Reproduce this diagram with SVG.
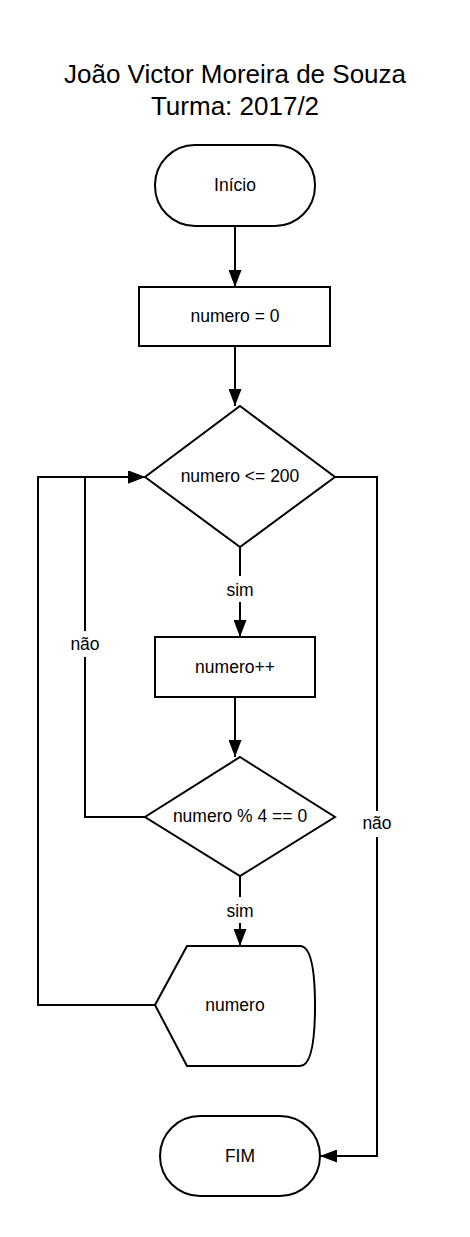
<svg xmlns="http://www.w3.org/2000/svg" width="470" height="1237" viewBox="0 0 470 1237">
<style>
.shape{fill:#ffffff;stroke:#000000;stroke-width:2}
.conn{fill:none;stroke:#000000;stroke-width:2}
.t{font-family:"Liberation Sans",Arial,sans-serif;font-size:17.5px;fill:#000000;text-anchor:middle}
.title{font-family:"Liberation Sans",Arial,sans-serif;font-size:26px;fill:#000000;text-anchor:middle}
.lblbg{fill:#ffffff;stroke:none}
</style>
<defs>
<marker id="arr" markerUnits="userSpaceOnUse" markerWidth="18" markerHeight="13" refX="17" refY="6.5" orient="auto">
<path d="M0,0 L17,6.5 L0,13 Z" fill="#000000"/>
</marker>
</defs>
<rect width="470" height="1237" fill="#ffffff"/>
<g id="title">
<text class="title" x="235" y="83">João Victor Moreira de Souza</text>
<text class="title" x="235" y="115">Turma: 2017/2</text>
</g>
<g id="connectors">
<path class="conn" d="M235 226 L235 287" marker-end="url(#arr)"/>
<path class="conn" d="M235 346 L235 406" marker-end="url(#arr)"/>
<path class="conn" d="M240 547 L240 637" marker-end="url(#arr)"/>
<path class="conn" d="M235 697 L235 757" marker-end="url(#arr)"/>
<path class="conn" d="M240 876 L240 946" marker-end="url(#arr)"/>
<path class="conn" d="M145 817 L85 817 L85 477 L145 477" marker-end="url(#arr)"/>
<path class="conn" d="M155 1005 L38 1005 L38 477 L145 477" marker-end="url(#arr)"/>
<path class="conn" d="M335 477 L377 477 L377 1156 L320 1156" marker-end="url(#arr)"/>
<rect class="lblbg" x="224" y="576" width="32" height="26"/>
<text class="t" x="240" y="596">sim</text>
<rect class="lblbg" x="224" y="897" width="32" height="26"/>
<text class="t" x="240" y="917">sim</text>
<rect class="lblbg" x="68" y="631" width="34" height="26"/>
<text class="t" x="85" y="650">não</text>
<rect class="lblbg" x="360" y="811" width="34" height="26"/>
<text class="t" x="377" y="829">não</text>
</g>
<g id="inicio">
<rect class="shape" x="155" y="145" width="160" height="81" rx="40" ry="40"/>
<text class="t" x="235" y="191">Início</text>
</g>
<g id="numero0">
<rect class="shape" x="139" y="287" width="191" height="59"/>
<text class="t" x="235" y="322">numero = 0</text>
</g>
<g id="cond1">
<polygon class="shape" points="240,406 335,477 240,547 145,477"/>
<text class="t" x="240" y="482">numero &lt;= 200</text>
</g>
<g id="incremento">
<rect class="shape" x="155" y="637" width="160" height="60"/>
<text class="t" x="235" y="673">numero++</text>
</g>
<g id="cond2">
<polygon class="shape" points="240,757 335,817 240,876 145,817"/>
<text class="t" x="240" y="822">numero % 4 == 0</text>
</g>
<g id="display">
<path class="shape" d="M155 1005 L187 946 L300 946 C312 946 315 975 315 1006 C315 1037 312 1066 300 1066 L187 1066 Z"/>
<text class="t" x="235" y="1011">numero</text>
</g>
<g id="fim">
<rect class="shape" x="160" y="1116" width="160" height="80" rx="40" ry="40"/>
<text class="t" x="240" y="1162">FIM</text>
</g>
</svg>
